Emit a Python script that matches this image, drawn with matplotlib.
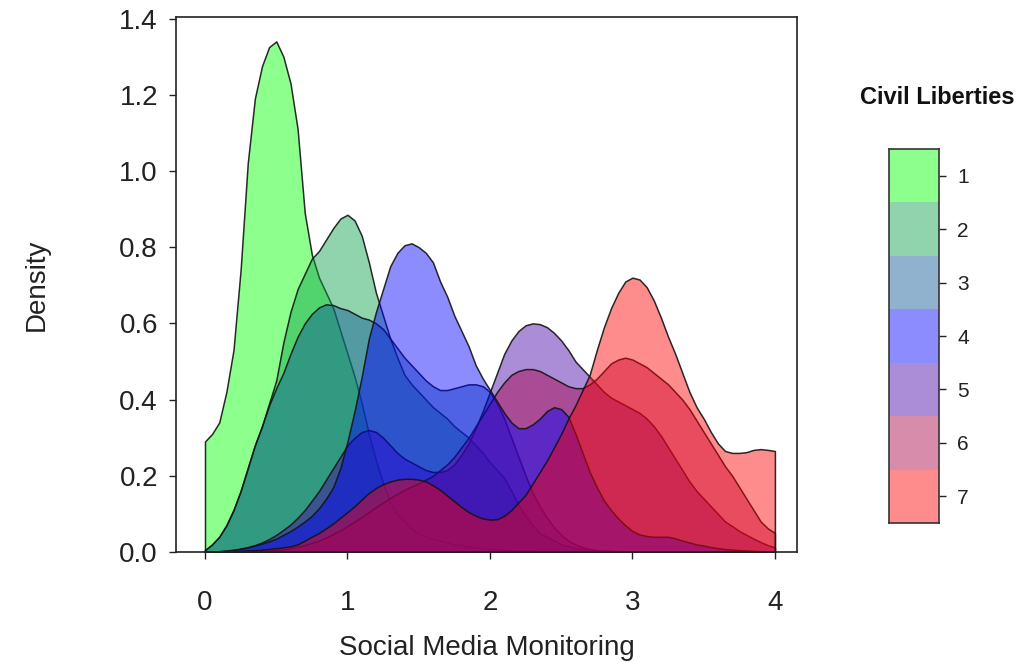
import numpy as np
import matplotlib
matplotlib.use('Agg')
import matplotlib.pyplot as plt

plt.rcParams['font.family'] = ['Liberation Sans', 'DejaVu Sans']

# Density on a grid of 0.05 from 0 to 4
x_grid = np.linspace(0, 4, 81)

dens_1 = [0.29, 0.31, 0.34, 0.42, 0.53, 0.74, 1.02, 1.19, 1.275, 1.325,
          1.34, 1.30, 1.23, 1.11, 0.89, 0.78, 0.72, 0.68, 0.64, 0.58,
          0.52, 0.46, 0.39, 0.31, 0.24, 0.18, 0.13, 0.10, 0.08, 0.06,
          0.05, 0.04, 0.035, 0.03, 0.025, 0.02, 0.018, 0.015, 0.012, 0.01,
          0.008, 0.007, 0.006, 0.005, 0.005, 0.004, 0.004, 0.003, 0.003, 0.003,
          0.002, 0.002, 0.002, 0.002, 0.001, 0.001, 0.001, 0.001, 0.001, 0.001,
          0.001, 0.001, 0.001, 0.0, 0.0, 0.0, 0.0, 0.0, 0.0, 0.0,
          0.0, 0.0, 0.0, 0.0, 0.0, 0.0, 0.0, 0.0, 0.0, 0.0, 0.0]

dens_2 = [0.005, 0.02, 0.04, 0.07, 0.11, 0.16, 0.22, 0.28, 0.33, 0.39,
          0.45, 0.55, 0.63, 0.69, 0.73, 0.77, 0.79, 0.82, 0.85, 0.875,
          0.885, 0.87, 0.83, 0.76, 0.68, 0.62, 0.56, 0.51, 0.465, 0.44,
          0.42, 0.40, 0.38, 0.365, 0.35, 0.33, 0.315, 0.30, 0.28, 0.26,
          0.235, 0.215, 0.195, 0.16, 0.125, 0.095, 0.07, 0.05, 0.04, 0.03,
          0.02, 0.015, 0.01, 0.008, 0.005, 0.004, 0.003, 0.002, 0.002, 0.001,
          0.001, 0.001, 0.0, 0.0, 0.0, 0.0, 0.0, 0.0, 0.0, 0.0,
          0.0, 0.0, 0.0, 0.0, 0.0, 0.0, 0.0, 0.0, 0.0, 0.0, 0.0]

dens_3 = [0.005, 0.02, 0.04, 0.07, 0.11, 0.16, 0.22, 0.28, 0.33, 0.385,
          0.43, 0.47, 0.52, 0.565, 0.60, 0.625, 0.642, 0.65, 0.648, 0.64,
          0.635, 0.625, 0.615, 0.61, 0.60, 0.585, 0.56, 0.535, 0.51, 0.49,
          0.47, 0.45, 0.435, 0.425, 0.425, 0.43, 0.435, 0.44, 0.44, 0.435,
          0.42, 0.39, 0.35, 0.30, 0.25, 0.20, 0.155, 0.12, 0.09, 0.065,
          0.045, 0.03, 0.02, 0.013, 0.008, 0.005, 0.004, 0.003, 0.002, 0.002,
          0.001, 0.001, 0.001, 0.0, 0.0, 0.0, 0.0, 0.0, 0.0, 0.0,
          0.0, 0.0, 0.0, 0.0, 0.0, 0.0, 0.0, 0.0, 0.0, 0.0, 0.0]

dens_4 = [0.0, 0.001, 0.002, 0.003, 0.005, 0.008, 0.012, 0.017, 0.022, 0.028,
          0.035, 0.045, 0.055, 0.067, 0.08, 0.095, 0.115, 0.14, 0.17, 0.22,
          0.29, 0.37, 0.46, 0.56, 0.63, 0.69, 0.75, 0.785, 0.805, 0.81,
          0.80, 0.785, 0.76, 0.71, 0.67, 0.62, 0.58, 0.54, 0.49, 0.455,
          0.425, 0.395, 0.365, 0.34, 0.325, 0.325, 0.335, 0.35, 0.37, 0.38,
          0.375, 0.355, 0.31, 0.26, 0.21, 0.17, 0.135, 0.11, 0.088, 0.07,
          0.055, 0.046, 0.042, 0.04, 0.04, 0.04, 0.036, 0.03, 0.025, 0.02,
          0.017, 0.013, 0.01, 0.008, 0.006, 0.005, 0.004, 0.003, 0.002, 0.001, 0.0]

dens_5 = [0.0, 0.001, 0.002, 0.004, 0.006, 0.009, 0.013, 0.018, 0.025, 0.034,
          0.045, 0.058, 0.072, 0.09, 0.11, 0.135, 0.16, 0.19, 0.22, 0.25,
          0.28, 0.30, 0.315, 0.32, 0.315, 0.30, 0.28, 0.26, 0.245, 0.235,
          0.225, 0.215, 0.21, 0.21, 0.215, 0.23, 0.255, 0.285, 0.325, 0.37,
          0.42, 0.47, 0.52, 0.555, 0.58, 0.595, 0.60, 0.598, 0.59, 0.575,
          0.555, 0.53, 0.50, 0.48, 0.46, 0.44, 0.42, 0.405, 0.395, 0.385,
          0.375, 0.365, 0.35, 0.33, 0.305, 0.275, 0.245, 0.215, 0.185, 0.16,
          0.14, 0.12, 0.10, 0.08, 0.068, 0.055, 0.045, 0.035, 0.026, 0.018, 0.012]

dens_6 = [0.0, 0.0, 0.001, 0.001, 0.002, 0.002, 0.003, 0.003, 0.004, 0.004,
          0.005, 0.007, 0.01, 0.014, 0.018, 0.024, 0.03, 0.038, 0.047, 0.057,
          0.068, 0.08, 0.092, 0.105, 0.118, 0.13, 0.142, 0.153, 0.163, 0.172,
          0.18, 0.19, 0.20, 0.215, 0.23, 0.25, 0.275, 0.30, 0.33, 0.36,
          0.39, 0.42, 0.445, 0.465, 0.475, 0.48, 0.48, 0.475, 0.465, 0.455,
          0.445, 0.435, 0.43, 0.43, 0.44, 0.455, 0.475, 0.495, 0.505, 0.51,
          0.505, 0.495, 0.485, 0.47, 0.455, 0.44, 0.42, 0.40, 0.375, 0.345,
          0.315, 0.285, 0.255, 0.225, 0.20, 0.17, 0.14, 0.11, 0.08, 0.062, 0.05]

dens_7 = [0.0, 0.0, 0.001, 0.001, 0.002, 0.003, 0.004, 0.005, 0.006, 0.008,
          0.01, 0.012, 0.015, 0.02, 0.03, 0.04, 0.05, 0.062, 0.075, 0.09,
          0.105, 0.12, 0.138, 0.155, 0.168, 0.178, 0.185, 0.19, 0.192, 0.192,
          0.19, 0.185, 0.175, 0.163, 0.148, 0.133, 0.118, 0.105, 0.095, 0.088,
          0.085, 0.086, 0.095, 0.11, 0.13, 0.15, 0.18, 0.21, 0.24, 0.275,
          0.31, 0.35, 0.385, 0.425, 0.465, 0.53, 0.59, 0.64, 0.68, 0.71,
          0.72, 0.715, 0.695, 0.66, 0.615, 0.565, 0.52, 0.47, 0.42, 0.38,
          0.35, 0.315, 0.285, 0.265, 0.26, 0.26, 0.262, 0.268, 0.27, 0.268, 0.265]

densities = [dens_1, dens_2, dens_3, dens_4, dens_5, dens_6, dens_7]
levels = ['1', '2', '3', '4', '5', '6', '7']

# green -> blue -> red
fill_colors = ['#00ff00', '#0aa04b', '#0a5596', '#0000ff', '#4600a5', '#aa0046', '#ff0000']
fill_alpha = 0.45
# the blue layer sits above 5 and 6 in the reference
draw_order = [0, 1, 2, 4, 5, 3, 6]

fig = plt.figure(figsize=(10.23, 6.67), dpi=100)
ax = fig.add_axes([176 / 1023, 1 - 552 / 667, 621 / 1023, 535 / 667])

for k in draw_order:
    ax.fill_between(x_grid, 0, densities[k],
                    facecolor=matplotlib.colors.to_rgba(fill_colors[k], fill_alpha),
                    edgecolor=(0.08, 0.08, 0.08, 0.9), linewidth=1.1)

ax.set_xlim(-0.2035, 4.155)
ax.set_ylim(0, 1.404)
ax.set_xticks([0, 1, 2, 3, 4])
ax.set_yticks([0.0, 0.2, 0.4, 0.6, 0.8, 1.0, 1.2, 1.4])
ax.set_yticklabels(['0.0', '0.2', '0.4', '0.6', '0.8', '1.0', '1.2', '1.4'])
ax.tick_params(axis='both', direction='out', length=5, width=1.0, labelsize=20, colors='#222222')
ax.tick_params(axis='x', pad=22)
ax.tick_params(axis='y', pad=8)
for sp in ax.spines.values():
    sp.set_color('#222222')
    sp.set_linewidth(1.2)
ax.set_xlabel('Social Media Monitoring', fontsize=20, labelpad=14, color='#222222')
ax.set_ylabel('Density', fontsize=20, labelpad=50, color='#222222')

# legend drawn as a stacked colour bar
lax = fig.add_axes([889 / 1023, 1 - 523 / 667, 50 / 1023, 374 / 667])
for i, col in enumerate(fill_colors):
    lax.bar(0, 1, bottom=i, width=1, color=col, alpha=fill_alpha, linewidth=0)
lax.set_xlim(-0.5, 0.5)
lax.set_ylim(len(levels), 0)
lax.set_xticks([])
lax.yaxis.tick_right()
lax.set_yticks(np.arange(len(levels)) + 0.5)
lax.set_yticklabels(levels)
lax.tick_params(axis='y', direction='out', length=5, width=1.0, labelsize=15, pad=8, colors='#222222')
for sp in lax.spines.values():
    sp.set_color('#333333')
    sp.set_linewidth(1.2)
fig.text(937 / 1023, 1 - 97 / 667, 'Civil Liberties', fontsize=17, fontweight='bold',
         ha='center', va='center', color='#111111')

fig.savefig('out.png', dpi=100)
